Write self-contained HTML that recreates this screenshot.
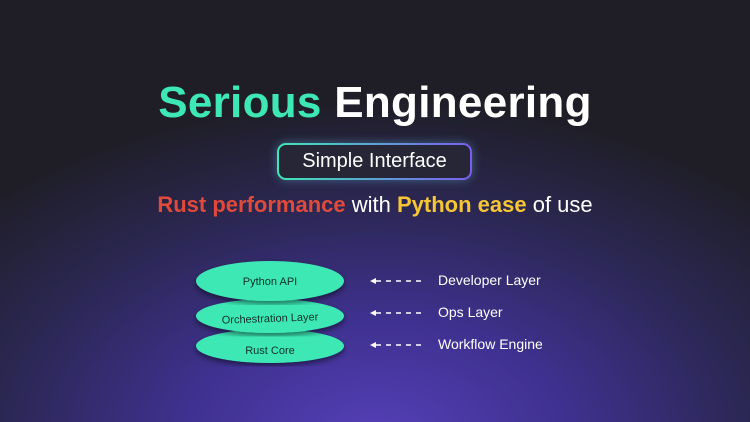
<!DOCTYPE html>
<html><head><meta charset="utf-8"><style>
body{margin:0;width:750px;height:422px;overflow:hidden;font-family:"Liberation Sans",sans-serif;
background:radial-gradient(ellipse 540px 340px at 375px 440px,#5540b8 0%,#3f3190 35%,#2b2752 70%,#1f1e27 100%),#1f1e27;position:relative}
.t{position:absolute;left:0;width:750px;text-align:center;white-space:nowrap}
.btn{position:absolute;left:277px;top:143px;width:195px;height:37px;border-radius:9px;padding:2px;box-sizing:border-box;
background:linear-gradient(90deg,#3ee8b5,#7b5cf0);box-shadow:0 0 10px rgba(100,180,220,.45)}
.btn div{width:100%;height:100%;border-radius:7px;background:#262636;color:#fff;font-size:20px;line-height:33px;text-align:center}
.lab{position:absolute;color:#fff;font-size:14px}
</style></head><body>
<div class="t" style="top:78px;font-size:44px;font-weight:bold;color:#fff;letter-spacing:0.3px"><span style="color:#3ee8b5">Serious</span> Engineering</div>
<div class="btn"><div>Simple Interface</div></div>
<div class="t" style="top:192px;font-size:22px;color:#fff"><b style="color:#e04a3a">Rust performance</b> with <b style="color:#f6c634">Python ease</b> of use</div>
<svg width="750" height="422" style="position:absolute;left:0;top:0">
<defs><filter id="s"><feDropShadow dx="0" dy="3" stdDeviation="3" flood-color="#000" flood-opacity=".5"/></filter></defs>
<ellipse cx="270" cy="346" rx="74" ry="17" fill="#3ee8b5" filter="url(#s)"/>
<ellipse cx="270" cy="316" rx="74" ry="17" fill="#3ee8b5" filter="url(#s)"/>
<ellipse cx="270" cy="281" rx="74" ry="20" fill="#3ee8b5" filter="url(#s)"/>
<g font-family="Liberation Sans" font-size="11" fill="#12302a" text-anchor="middle">
<text x="270" y="285">Python API</text>
<text x="270" y="322" transform="rotate(-2 270 318)">Orchestration Layer</text>
<text x="270" y="354">Rust Core</text></g>
<g stroke="#fff" stroke-width="1.5" stroke-dasharray="5 5" fill="#fff">
<line x1="376" y1="281" x2="422" y2="281"/><line x1="376" y1="313" x2="422" y2="313"/><line x1="376" y1="345" x2="422" y2="345"/></g>
<g fill="#fff"><polygon points="370,281 376,278 376,284"/><polygon points="370,313 376,310 376,316"/><polygon points="370,345 376,342 376,348"/></g>
</svg>
<div class="lab" style="left:438px;top:272px">Developer Layer</div>
<div class="lab" style="left:438px;top:304px">Ops Layer</div>
<div class="lab" style="left:438px;top:336px">Workflow Engine</div>
</body></html>
